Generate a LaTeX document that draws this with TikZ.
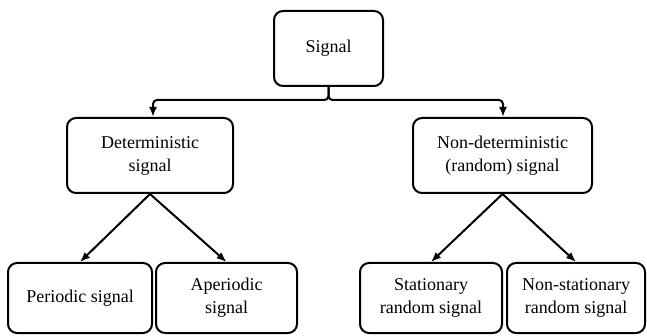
\documentclass[tikz,border=0pt]{standalone}
\usepackage{fontspec}
\setmainfont{Liberation Serif}
\usetikzlibrary{arrows.meta}
\begin{document}
\begin{tikzpicture}[x=1pt,y=-1pt,
  box/.style={draw, line width=2pt, rounded corners=9pt, align=center, inner sep=2pt,
    font=\fontsize{18}{23}\selectfont},
  conn/.style={line width=2pt, -{Latex[length=10pt,width=8pt]}}]
\useasboundingbox (0,0) rectangle (647,336);
\node[box, minimum width=109pt, minimum height=75pt] (sig) at (328.5,48.5) {Signal};
\node[box, minimum width=166pt, minimum height=75pt] (det) at (150,155.5) {Deterministic\\signal};
\node[box, minimum width=179pt, minimum height=75pt] (ndet) at (502.5,155.5) {Non-deterministic\\(random) signal};
\node[box, minimum width=144pt, minimum height=70pt] (per) at (80,298) {Periodic signal};
\node[box, minimum width=141pt, minimum height=70pt] (aper) at (226.5,298) {Aperiodic\\signal};
\node[box, minimum width=142pt, minimum height=70pt] (stat) at (431,298) {Stationary\\random signal};
\node[box, minimum width=138pt, minimum height=70pt] (nstat) at (576,298) {Non-stationary\\random signal};
\coordinate (j1) at (153,100);
\coordinate (j2) at (503,100);
\draw[conn, rounded corners=4pt] (sig.south) |- (j1) -- (j1 |- det.north);
\draw[conn, rounded corners=4pt] (sig.south) |- (j2) -- (j2 |- ndet.north);
\draw[conn] (det.south) -- (per.north);
\draw[conn] (det.south) -- (aper.north);
\draw[conn] (ndet.south) -- (stat.north);
\draw[conn] (ndet.south) -- (nstat.north);
\end{tikzpicture}
\end{document}
